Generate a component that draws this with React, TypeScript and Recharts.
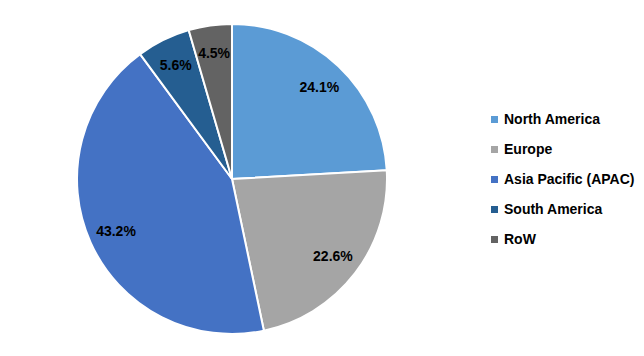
import { PieChart, Pie, Cell, Legend } from 'recharts'

const regions = ['North America', 'Europe', 'Asia Pacific (APAC)', 'South America', 'RoW']
const shares = [24.1, 22.6, 43.2, 5.6, 4.5]
const colors = ['#5B9BD5', '#A5A5A5', '#4472C4', '#255E91', '#636363']

const data = regions.map((name, i) => ({ name, value: shares[i], color: colors[i] }))

const FONT = '"Liberation Sans", Arial, sans-serif'
const RAD = Math.PI / 180

function renderLabel(props: any) {
  const { cx, cy, midAngle, outerRadius, value } = props
  const r = outerRadius * 0.82
  const x = cx + r * Math.cos(-midAngle * RAD)
  const y = cy + r * Math.sin(-midAngle * RAD)
  return (
    <text
      x={x}
      y={y}
      textAnchor="middle"
      dominantBaseline="central"
      fill="#000"
      fontSize={14}
      fontWeight="bold"
      fontFamily={FONT}
    >
      {value.toFixed(1)}%
    </text>
  )
}

function LegendBox() {
  return (
    <div style={{ fontFamily: FONT, fontSize: 14, fontWeight: 'bold', color: '#000' }}>
      {data.map((d) => (
        <div key={d.name} style={{ display: 'flex', alignItems: 'center', height: 30 }}>
          <span style={{ width: 7, height: 7, background: d.color, marginRight: 6, display: 'inline-block' }} />
          <span>{d.name}</span>
        </div>
      ))}
    </div>
  )
}

export default function App() {
  return (
    <PieChart width={644} height={356} margin={{ top: 0, right: 0, bottom: 0, left: 0 }}>
      <Pie
        data={data}
        dataKey="value"
        nameKey="name"
        cx={224}
        cy={171}
        outerRadius={155}
        startAngle={90}
        endAngle={-270}
        stroke="#fff"
        strokeWidth={2}
        label={renderLabel}
        labelLine={false}
        isAnimationActive={false}
      >
        {data.map((d) => (
          <Cell key={d.name} fill={d.color} />
        ))}
      </Pie>
      <Legend
        content={() => <LegendBox />}
        wrapperStyle={{ position: 'absolute', left: 483, top: 96, width: 160 }}
      />
    </PieChart>
  )
}
